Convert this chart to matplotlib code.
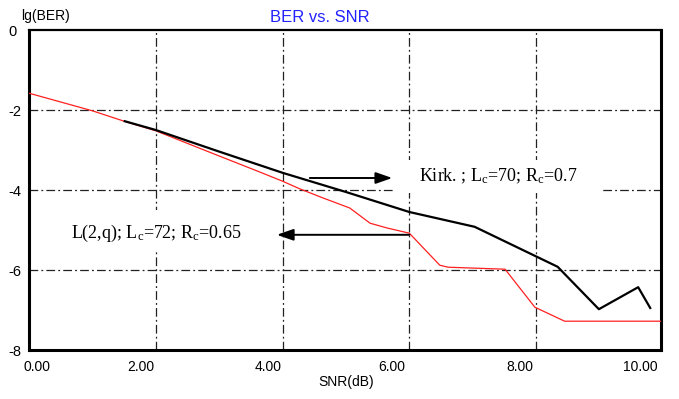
"""BER vs. SNR curves for two codes, redrawn from a scanned figure."""

import matplotlib
matplotlib.use("Agg")
import matplotlib.pyplot as plt
from matplotlib.patches import Rectangle

# lg(BER)
red_snr = [0.0, 1.0, 1.5, 2.0, 3.0, 3.64, 4.0, 4.27, 4.64, 5.06, 5.38, 5.65,
           6.0, 6.48, 6.61, 7.51, 7.98, 8.45, 9.97]
red_ber = [-1.58, -2.02, -2.28, -2.52, -3.15, -3.55, -3.78, -3.97, -4.2, -4.45,
           -4.83, -4.95, -5.08, -5.88, -5.93, -5.98, -6.93, -7.28, -7.28]

black_snr = [1.51, 2.0, 3.0, 4.0, 5.0, 6.0, 7.03, 8.34, 8.99, 9.61, 9.80]
black_ber = [-2.28, -2.5, -3.04, -3.57, -4.05, -4.55, -4.92, -5.92, -6.98,
             -6.43, -6.95]

x_grid = [2, 4, 6, 8]
y_grid = [-2, -4, -6]
x_tick_pos = [0.12, 1.76, 3.77, 5.73, 7.74, 9.65]
x_tick_labels = ["0.00", "2.00", "4.00", "6.00", "8.00", "10.00"]
y_ticks = [0, -2, -4, -6, -8]
y_tick_labels = ["0", "-2", "-4", "-6", "-8"]

kirk_label = r"Kirk. ; L$_\mathrm{c}$=70; R$_\mathrm{c}$=0.7"
lq_label = r"L(2,q); L$_\mathrm{c}$=72; R$_\mathrm{c}$=0.65"

SANS = ["Liberation Sans", "DejaVu Sans"]
SERIF = ["Liberation Serif", "DejaVu Serif"]

plt.rcParams["mathtext.fontset"] = "custom"
plt.rcParams["mathtext.rm"] = "Liberation Serif"
plt.rcParams["mathtext.it"] = "Liberation Serif:italic"

fig = plt.figure(figsize=(6.79, 3.99), dpi=100)
ax = fig.add_axes([29 / 679, 49 / 399, 632 / 679, 320 / 399])
ax.set_xlim(0, 9.97)
ax.set_ylim(-8, 0)

grid_style = dict(color="#222222", lw=0.9, dashes=(7, 2.5, 1.5, 2.5), zorder=1)
for gx in x_grid:
    ax.axvline(gx, **grid_style)
for gy in y_grid:
    ax.axhline(gy, **grid_style)

# white label boxes hide the grid behind the text
ax.add_patch(Rectangle((5.74, -4.08), 3.32, 0.83, facecolor="white",
                       edgecolor="none", zorder=2))
ax.add_patch(Rectangle((0.33, -5.55), 3.39, 1.05, facecolor="white",
                       edgecolor="none", zorder=2))

ax.plot(red_snr, red_ber, color="#ff2020", lw=0.9, zorder=3)
ax.plot(black_snr, black_ber, color="black", lw=1.6, zorder=4)

arrow = dict(arrowstyle="-|>,head_length=1.0,head_width=0.35", color="black",
             lw=1.4, shrinkA=0, shrinkB=0)
ax.annotate("", xy=(5.73, -3.7), xytext=(4.43, -3.7), arrowprops=arrow, zorder=5)
ax.annotate("", xy=(3.91, -5.12), xytext=(6.0, -5.12), arrowprops=arrow, zorder=5)

ax.text(6.15, -3.65, kirk_label, family=SERIF, fontsize=13, va="center",
        ha="left", zorder=6)
ax.text(0.67, -5.08, lq_label, family=SERIF, fontsize=13, va="center",
        ha="left", zorder=6)

ax.set_xticks(x_tick_pos)
ax.set_xticklabels(x_tick_labels, family=SANS, fontsize=10)
ax.set_yticks(y_ticks)
ax.set_yticklabels(y_tick_labels, family=SANS, fontsize=10.5, ha="left")
ax.tick_params(axis="x", length=0, pad=7)
ax.tick_params(axis="y", length=0, pad=15)

for side in ["left", "bottom", "right"]:
    ax.spines[side].set_linewidth(2.2)
ax.spines["top"].set_linewidth(1.6)

fig.text(21 / 679, 1 - 16 / 399, "lg(BER)", family=SANS, fontsize=10,
         ha="left", va="center")
fig.text(320 / 679, 1 - 17 / 399, "BER vs. SNR", family=SANS, fontsize=12,
         color="#2222ff", ha="center", va="center")
fig.text(346 / 679, 1 - 382 / 399, "SNR(dB)", family=SANS, fontsize=10,
         ha="center", va="center")

fig.savefig("out.png", dpi=100)
